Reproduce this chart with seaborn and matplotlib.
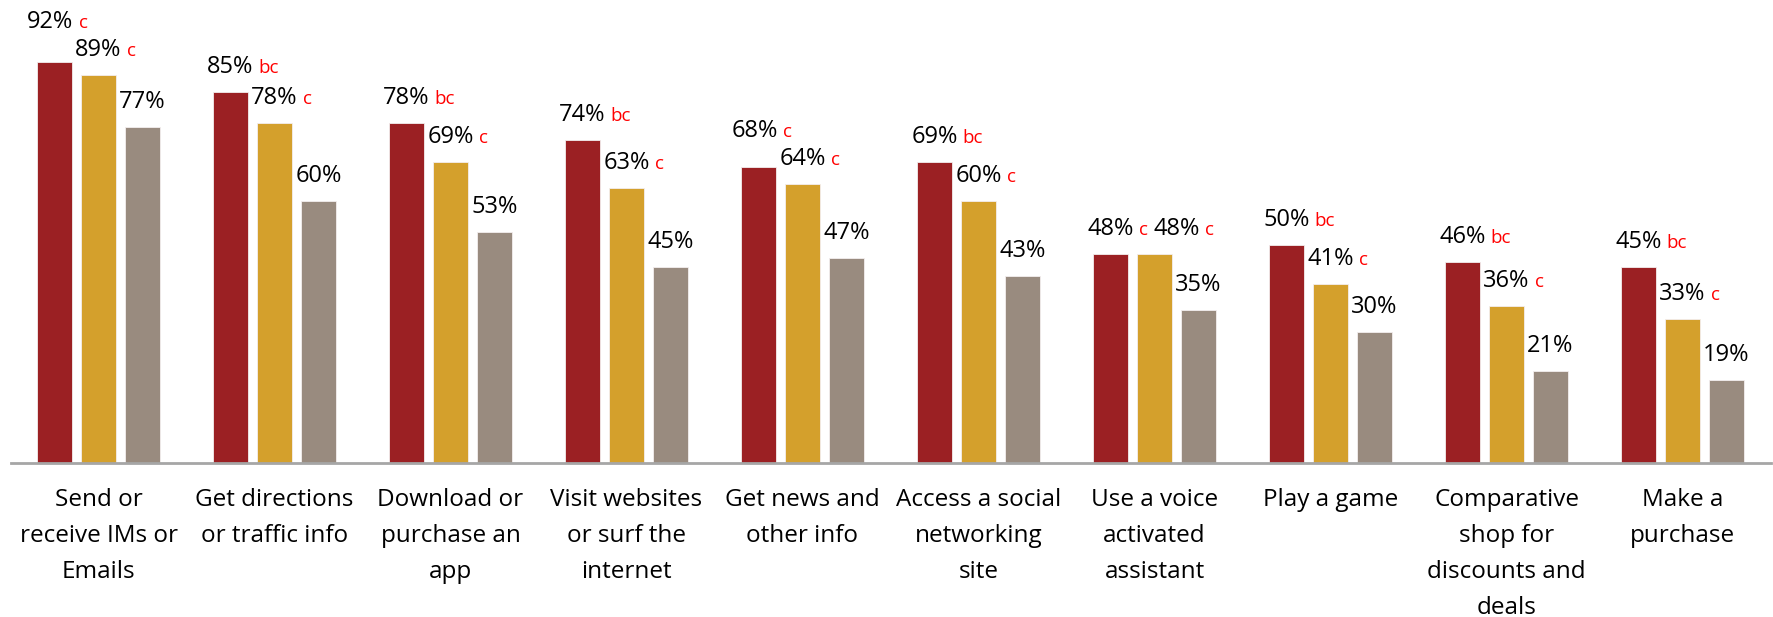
import matplotlib
matplotlib.use("Agg")
import matplotlib.pyplot as plt
from matplotlib.transforms import Bbox
import seaborn as sns
import pandas as pd

categories = [
    "Send or\nreceive IMs or\nEmails",
    "Get directions\nor traffic info",
    "Download or\npurchase an\napp",
    "Visit websites\nor surf the\ninternet",
    "Get news and\nother info",
    "Access a social\nnetworking\nsite",
    "Use a voice\nactivated\nassistant",
    "Play a game",
    "Comparative\nshop for\ndiscounts and\ndeals",
    "Make a\npurchase",
]
group_names = ["a", "b", "c"]
values_a = [92, 85, 78, 74, 68, 69, 48, 50, 46, 45]
values_b = [89, 78, 69, 63, 64, 60, 48, 41, 36, 33]
values_c = [77, 60, 53, 45, 47, 43, 35, 30, 21, 19]
sig_a = ["c", "bc", "bc", "bc", "c", "bc", "c", "bc", "bc", "bc"]
sig_b = ["c"] * 10
sig_c = [""] * 10

colors = ["#9B2023", "#D4A02C", "#998B7F"]

sns.set_theme(style="white")
plt.rcParams["font.family"] = ["Open Sans", "DejaVu Sans"]

rows = []
for g, vals in zip(group_names, [values_a, values_b, values_c]):
    for cat, v in zip(categories, vals):
        rows.append({"activity": cat, "group": g, "pct": v})
df = pd.DataFrame(rows)

fig = plt.figure(figsize=(17.74, 6.17), dpi=100)
ax = fig.add_axes([10.5 / 1774, 154 / 617, 1760 / 1774, 436 / 617])

sns.barplot(
    data=df, x="activity", y="pct", hue="group", order=categories,
    hue_order=group_names, palette=colors, saturation=1, width=0.75, gap=0.2,
    edgecolor="#f3eeee", linewidth=0.6, legend=False, ax=ax,
)

ax.set_ylim(0, 100)
ax.set_xlim(-0.5, len(categories) - 0.5)
ax.set_xlabel("")
ax.set_ylabel("")
ax.set_yticks([])
for side in ["top", "left", "right"]:
    ax.spines[side].set_visible(False)
ax.spines["bottom"].set_color("#A6A6A6")
ax.spines["bottom"].set_linewidth(2)
ax.tick_params(axis="x", length=0, pad=18, labelsize=17.5, colors="black")
for lbl in ax.get_xticklabels():
    lbl.set_linespacing(1.66)
    lbl.set_verticalalignment("top")

# value labels with significance letters
sigs = [sig_a, sig_b, sig_c]
labels = [[None] * 3 for _ in categories]
for j, (container, letters) in enumerate(zip(ax.containers, sigs)):
    for i, (bar, letter) in enumerate(zip(container, letters)):
        h = bar.get_height()
        xc = bar.get_x() + bar.get_width() / 2
        pct = ax.annotate(
            f"{h:.0f}%", xy=(xc, h), xytext=(0, 19), textcoords="offset pixels",
            ha="center", va="baseline", fontsize=17, color="black",
        )
        sig = None
        if letter:
            sig = ax.annotate(
                letter, xy=(1, 0), xycoords=pct, xytext=(5, 0),
                textcoords="offset pixels", ha="left", va="baseline",
                fontsize=13.5, color="#FF0000",
            )
        labels[i][j] = (pct, sig, h)

fig.canvas.draw()
renderer = fig.canvas.get_renderer()

# put each letter on the baseline of its percentage text
for group in labels:
    for pct, sig, h in group:
        if sig is None:
            continue
        base_y = ax.transData.transform(pct.xy)[1] + pct.xyann[1]
        descent = base_y - pct.get_window_extent(renderer).y0
        sig.xyann = (5, descent)
fig.canvas.draw()


def label_box(item):
    pct, sig, _ = item
    boxes = [pct.get_window_extent(renderer)]
    if sig is not None:
        boxes.append(sig.get_window_extent(renderer))
    return Bbox.union(boxes)


# nudge labels of neighbouring bars apart where they collide
for group in labels:
    for j in range(1, 3):
        prev, cur = group[j - 1], group[j]
        pb, cb = label_box(prev), label_box(cur)
        overlap_x = min(pb.x1, cb.x1) - max(pb.x0, cb.x0)
        overlap_y = min(pb.y1, cb.y1) - max(pb.y0, cb.y0)
        if overlap_x > 0 and overlap_y > 0:
            if prev[2] > cur[2] + 1:
                dx, dy = prev[0].xyann
                prev[0].xyann = (dx - 4, dy + overlap_y + 4)
            else:
                dx, dy = cur[0].xyann
                cur[0].xyann = (dx + overlap_x + 6, dy)
            fig.canvas.draw()

fig.savefig("out.png", dpi=100, facecolor="white")
